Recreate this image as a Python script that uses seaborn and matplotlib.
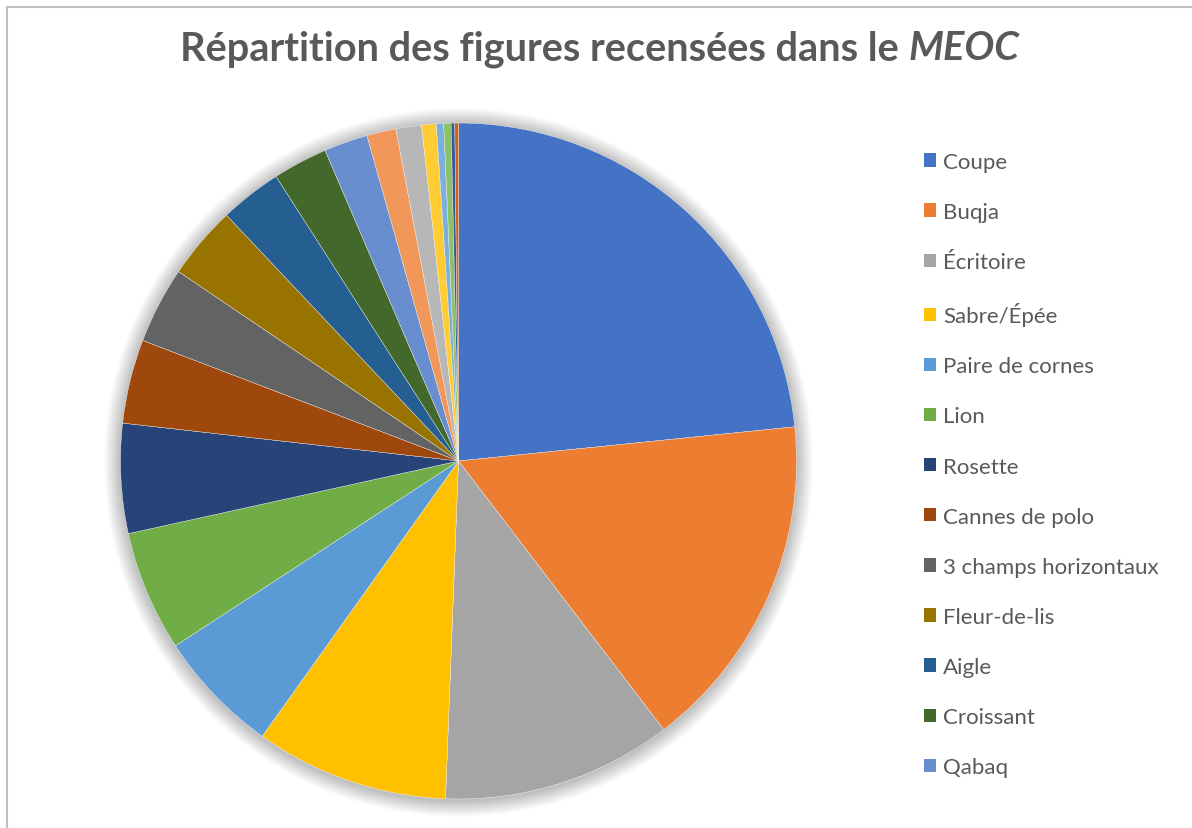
import numpy as np
import seaborn as sns
import matplotlib.pyplot as plt
from matplotlib.patches import Circle, Patch
from matplotlib.lines import Line2D

# figures (counts), clockwise from 12 o'clock
figures = ["Coupe", "Buqja", "Écritoire", "Sabre/Épée", "Paire de cornes", "Lion",
           "Rosette", "Cannes de polo", "3 champs horizontaux", "Fleur-de-lis",
           "Aigle", "Croissant", "Qabaq",
           "Autre 1", "Autre 2", "Autre 3", "Autre 4", "Autre 5", "Autre 6", "Autre 7"]
counts = [134, 93, 63, 53, 34, 33, 30, 23, 21, 20, 17, 15, 12, 8, 7, 4, 2, 2, 1, 1]
legend_count = 13  # Excel legend only shows the first 13 entries

office_colors = ["#4472C4", "#ED7D31", "#A5A5A5", "#FFC000", "#5B9BD5", "#70AD47",
                 "#264478", "#9E480E", "#636363", "#997300", "#255E91", "#43682B",
                 "#698ED0", "#F1975A", "#B7B7B7", "#FFCD33", "#7CAFDD", "#8CC168",
                 "#335AA1", "#D26012"]

sns.set_theme(style="white")
plt.rcParams['font.family'] = ['Lato', 'DejaVu Sans']
palette = sns.color_palette(office_colors)

W, H = 1192, 829
fig = plt.figure(figsize=(W / 100, H / 100), dpi=100, facecolor="white")

# pie axes: centre (458.5, 462) px, radius 338 px
cx, cy, r = 458.5, 462, 338
ax = fig.add_axes([(cx - r) / W, (H - cy - r) / H, 2 * r / W, 2 * r / H])

wedges, _ = ax.pie(counts, colors=palette, startangle=90, counterclock=False,
                   radius=1.0, wedgeprops=dict(linewidth=0.25, edgecolor="white"))
for w in wedges:
    w.set_zorder(2)

# soft shadow around the pie
for i in range(16):
    rr = 1.0 + 0.003 * (i + 1)
    ax.add_patch(Circle((0, -0.004), rr, color="#000000", alpha=0.016, lw=0,
                        zorder=0, clip_on=False))

ax.set_xlim(-1, 1)
ax.set_ylim(-1, 1)
ax.set_aspect("equal")
ax.axis("off")

# legend
handles = [Patch(facecolor=palette[i], edgecolor="none") for i in range(legend_count)]
fig.legend(handles, figures[:legend_count], loc="center left",
           bbox_to_anchor=(924 / W, 1 - 465.5 / H), frameon=False,
           fontsize=16, labelcolor="#595959", handlelength=0.55, handleheight=0.55,
           handletextpad=0.3, labelspacing=1.355, borderpad=0, borderaxespad=0)

# title: bold with italic MEOC, centred as a whole
ty = 1 - 49 / H
t1 = fig.text(0, ty, "Répartition des figures recensées dans le ", fontsize=28.6,
              fontweight="bold", color="#595959", va="center", ha="left")
t2 = fig.text(0, ty, "MEOC", fontsize=28.6, fontweight="bold", fontstyle="italic",
              color="#595959", va="center", ha="left")
renderer = fig.canvas.get_renderer()
w1 = t1.get_window_extent(renderer).width
w2 = t2.get_window_extent(renderer).width
x0 = 600 - (w1 + w2) / 2
t1.set_x(x0 / W)
t2.set_x((x0 + w1) / W)

# chart area border (top and left visible)
fig.add_artist(Line2D([7 / W, 1], [1 - 8 / H, 1 - 8 / H], color="#BFBFBF", lw=1.5))
fig.add_artist(Line2D([7 / W, 7 / W], [0, 1 - 8 / H], color="#BFBFBF", lw=1.5))

fig.savefig("out.png", dpi=100, facecolor="white")
